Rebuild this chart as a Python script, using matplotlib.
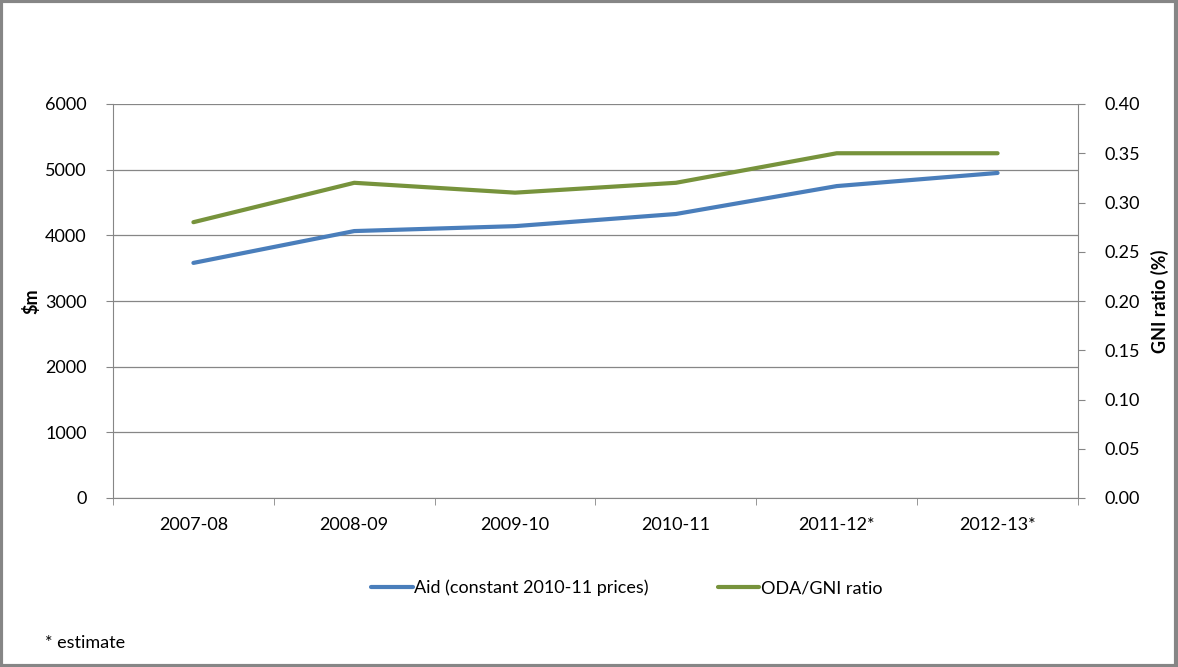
import matplotlib
matplotlib.use("Agg")
import matplotlib.pyplot as plt
from matplotlib.patches import Rectangle
import numpy as np

categories = ["2007-08", "2008-09", "2009-10", "2010-11", "2011-12*", "2012-13*"]
aid = [3580, 4065, 4140, 4325, 4750, 4950]
oda_gni = [0.28, 0.32, 0.31, 0.32, 0.35, 0.35]
left_ticks = [0, 1000, 2000, 3000, 4000, 5000, 6000]
right_ticks = [0.00, 0.05, 0.10, 0.15, 0.20, 0.25, 0.30, 0.35, 0.40]

plt.rcParams['font.family'] = ['Lato', 'DejaVu Sans']

fig = plt.figure(figsize=(11.78, 6.67), dpi=100)
W, H = 1178, 667
ax = fig.add_axes([113 / W, 1 - 498 / H, (1078 - 113) / W, (498 - 104) / H])

x = np.arange(len(categories))
ax.set_xlim(-0.5, len(categories) - 0.5)
ax.set_ylim(0, 6000)
ax.set_yticks(left_ticks)
ax.yaxis.grid(True, color="#868686", linewidth=0.9)
ax.set_axisbelow(True)
ax.set_xticks(x)
ax.set_xticklabels(categories)
ax.set_xticks(np.arange(-0.5, len(categories)), minor=True)
ax.tick_params(axis="x", which="major", length=0, pad=14, labelsize=13)
ax.tick_params(axis="x", which="minor", length=5, color="#868686", direction="out")
ax.tick_params(axis="y", length=5, color="#868686", direction="out", labelsize=13, pad=14)
for s in ["top", "right"]:
    ax.spines[s].set_visible(False)
for s in ["left", "bottom"]:
    ax.spines[s].set_color("#868686")
ax.set_ylabel("$m", fontsize=13, fontweight="bold", labelpad=3)

ax2 = ax.twinx()
ax2.set_ylim(0, 0.40)
ax2.set_yticks(right_ticks)
ax2.set_yticklabels([f"{v:.2f}" for v in right_ticks])
ax2.tick_params(axis="y", length=5, color="#868686", direction="out", labelsize=13, pad=14)
for s in ["top", "left", "bottom"]:
    ax2.spines[s].set_visible(False)
ax2.spines["right"].set_color("#868686")
ax2.set_ylabel("GNI ratio (%)", fontsize=13, fontweight="bold", labelpad=8)

l1, = ax.plot(x, aid, color="#4a7ebb", linewidth=3, solid_capstyle="round",
              label="Aid (constant 2010-11 prices)")
l2, = ax2.plot(x, oda_gni, color="#77933c", linewidth=3, solid_capstyle="round",
               label="ODA/GNI ratio")

fig.legend(handles=[l1, l2], loc="center", bbox_to_anchor=(0.532, 1 - 588 / H),
           ncol=2, frameon=False, fontsize=13, handlelength=2.3, handletextpad=0.1,
           columnspacing=3.8)

fig.text(45 / W, 1 - 643 / H, "* estimate", fontsize=13, va="center", ha="left")

fig.patches.append(Rectangle((0.001, 0.002), 0.997, 0.996, transform=fig.transFigure,
                             fill=False, edgecolor="#868686", linewidth=3))

fig.savefig("out.png", dpi=100)
